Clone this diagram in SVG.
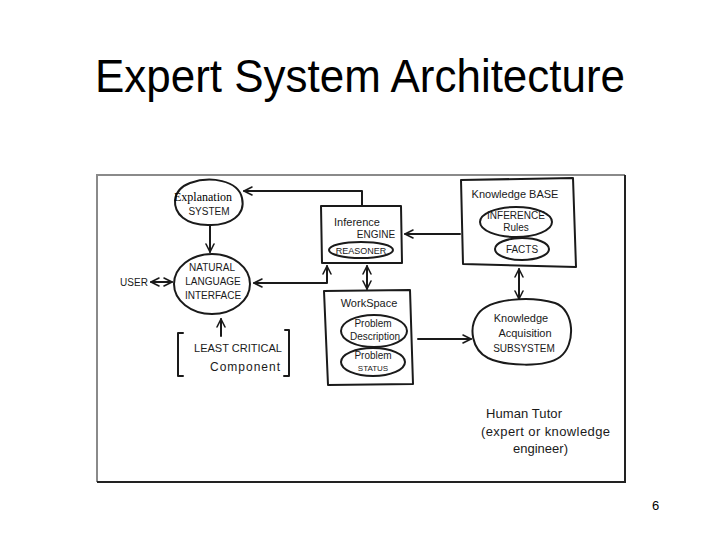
<svg xmlns="http://www.w3.org/2000/svg" width="720" height="540" viewBox="0 0 720 540">
<style>
.s{fill:none;stroke:#1a1a1a;stroke-width:2;stroke-linecap:round;stroke-linejoin:round}
.h{font-family:"Liberation Sans",Arial,sans-serif;fill:#1a1a1a;font-size:10px}
.hm{font-family:"Liberation Sans",Arial,sans-serif;fill:#1a1a1a;font-size:11px}
.ht{font-family:"Liberation Sans",Arial,sans-serif;fill:#1a1a1a;font-size:13px}
.c{text-anchor:middle}
</style>
<defs>
<marker id="a" viewBox="0 0 10 10" refX="9" refY="5" markerWidth="10" markerHeight="10" markerUnits="userSpaceOnUse" orient="auto-start-reverse">
<path d="M1,1 L9,5 L1,9" fill="none" stroke="#1a1a1a" stroke-width="1.6" stroke-linecap="round" stroke-linejoin="round"/>
</marker>
</defs>
<rect width="720" height="540" fill="#fff"/>
<text x="360" y="92" text-anchor="middle" font-family="Liberation Sans,Arial,sans-serif" font-size="46" textLength="530" lengthAdjust="spacingAndGlyphs" fill="#000">Expert System Architecture</text>
<g id="frame">
<path d="M97,482 V175 H625" fill="none" stroke="#8a8a8a" stroke-width="2"/>
<path d="M625,175 V482 H97" fill="none" stroke="#222" stroke-width="2"/>
</g>
<g id="connectors">
<path class="s" d="M362,205 V191 H244" marker-end="url(#a)"/>
<path class="s" d="M210,226 V252" marker-end="url(#a)"/>
<path class="s" d="M151,282 H172" marker-start="url(#a)" marker-end="url(#a)"/>
<path class="s" d="M254,283 H327 V266" marker-start="url(#a)" marker-end="url(#a)"/>
<path class="s" d="M367,266 V289" marker-start="url(#a)" marker-end="url(#a)"/>
<path class="s" d="M460,234 H405" marker-end="url(#a)"/>
<path class="s" d="M519,269 V299" marker-start="url(#a)" marker-end="url(#a)"/>
<path class="s" d="M418,339 H471" marker-end="url(#a)"/>
<path class="s" d="M221,336 V319" marker-end="url(#a)"/>
</g>
<g id="explanation">
<path class="s" d="M190,183 C210,176 238,180 242,198 C246,215 230,226 208,225 C186,225 174,214 175,200 C176,192 182,186 190,183 Z"/>
<text x="174" y="201" font-family="Liberation Serif,Times New Roman,serif" font-size="12" fill="#000">Explanation</text>
<text x="209" y="215" class="h c">SYSTEM</text>
</g>
<g id="nli">
<ellipse class="s" cx="212" cy="284" rx="38" ry="30"/>
<text x="212" y="271" class="h c">NATURAL</text>
<text x="213" y="285" class="h c">LANGUAGE</text>
<text x="213" y="299" class="h c">INTERFACE</text>
</g>
<g id="user"><text x="134" y="286" class="h c">USER</text></g>
<g id="least">
<path class="s" d="M183,333 H178 V376 H183"/>
<path class="s" d="M285,330 H289 V376 H284"/>
<text x="238" y="352" class="hm c">LEAST CRITICAL</text>
<text x="245" y="371" class="c" font-family="Liberation Sans,Arial,sans-serif" font-size="12" fill="#1a1a1a" textLength="70" lengthAdjust="spacing">Component</text>
</g>
<g id="inference">
<path class="s" d="M321,206 H401 L402,263 H322 Z"/>
<text x="357" y="226" class="hm c">Inference</text>
<text x="376" y="238" class="h c">ENGINE</text>
<ellipse class="s" cx="361" cy="250" rx="32" ry="8"/>
<text x="361" y="253.5" font-family="Liberation Sans,Arial,sans-serif" font-size="9" fill="#1a1a1a" text-anchor="middle">REASONER</text>
</g>
<g id="workspace">
<path class="s" d="M324,291 L410,290 L413,384 L328,385 Z"/>
<text x="369" y="307" class="hm c">WorkSpace</text>
<ellipse class="s" cx="374" cy="331" rx="33" ry="16"/>
<text x="373" y="327" class="h c">Problem</text>
<text x="375" y="340" class="h c">Description</text>
<ellipse class="s" cx="373" cy="362" rx="32" ry="14"/>
<text x="373" y="359" class="h c">Problem</text>
<text x="373" y="371" font-family="Liberation Sans,Arial,sans-serif" font-size="8" fill="#1a1a1a" text-anchor="middle">STATUS</text>
</g>
<g id="kb">
<path class="s" d="M461,180 L573,178 L576,267 L463,264 Z"/>
<text x="515" y="198" class="hm c">Knowledge BASE</text>
<ellipse class="s" cx="516" cy="222" rx="36" ry="15"/>
<text x="516" y="219" class="h c">INFERENCE</text>
<text x="516" y="231" class="h c">Rules</text>
<ellipse class="s" cx="522" cy="249" rx="27" ry="11"/>
<text x="522" y="253" class="h c">FACTS</text>
</g>
<g id="kas">
<path class="s" d="M478,314 C490,298 530,296 555,303 C575,310 576,345 560,357 C545,368 505,366 488,358 C472,350 468,328 478,314 Z"/>
<text x="521" y="322" class="hm c">Knowledge</text>
<text x="525" y="337" class="hm c">Acquisition</text>
<text x="524" y="352" class="h c">SUBSYSTEM</text>
</g>
<g id="tutor">
<text x="486" y="418" class="ht" textLength="76" lengthAdjust="spacing">Human Tutor</text>
<text x="481" y="436" class="ht" textLength="129" lengthAdjust="spacing">(expert or knowledge</text>
<text x="513" y="453" class="ht" textLength="55" lengthAdjust="spacing">engineer)</text>
</g>
<text x="652" y="510" font-family="Liberation Sans,Arial,sans-serif" font-size="13" fill="#000">6</text>
</svg>
